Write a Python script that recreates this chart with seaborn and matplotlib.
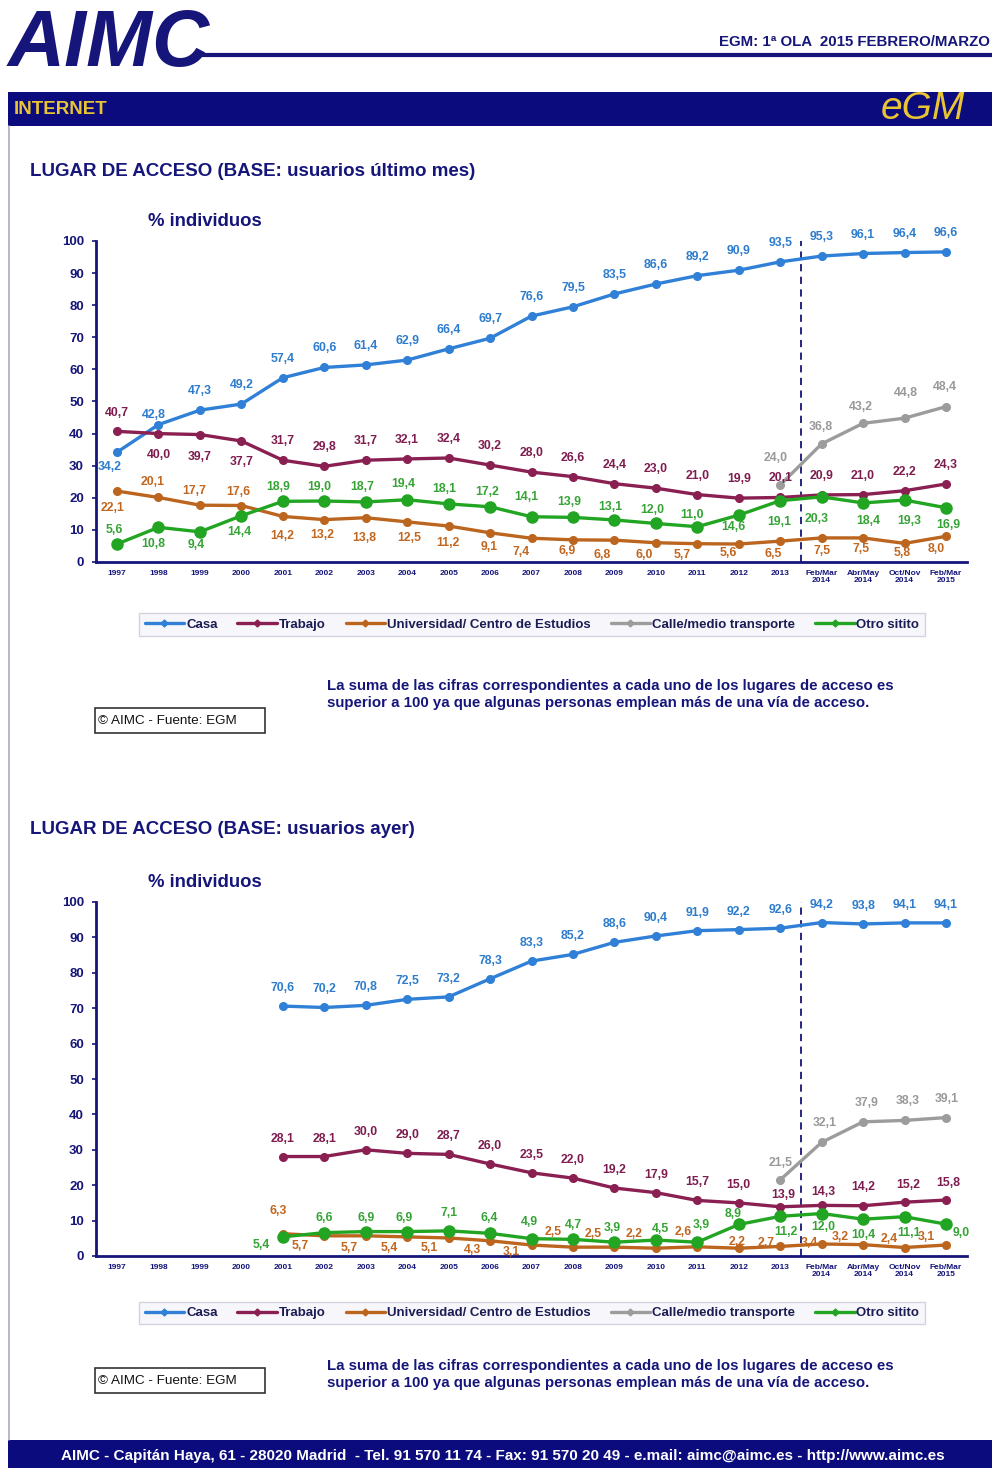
import numpy as np
import pandas as pd
import matplotlib
matplotlib.use("Agg")
import matplotlib.pyplot as plt
import seaborn as sns
from matplotlib.lines import Line2D
from matplotlib.patches import Rectangle

nan = np.nan

# ---------------------------------------------------------------- data
periods = ["1997", "1998", "1999", "2000", "2001", "2002", "2003", "2004",
           "2005", "2006", "2007", "2008", "2009", "2010", "2011", "2012",
           "2013", "Feb/Mar\n2014", "Abr/May\n2014", "Oct/Nov\n2014",
           "Feb/Mar\n2015"]

series_names = ["Casa", "Trabajo", "Universidad/ Centro de Estudios",
                "Calle/medio transporte", "Otro sitito"]

# base: usuarios último mes
mes_casa = [34.2, 42.8, 47.3, 49.2, 57.4, 60.6, 61.4, 62.9, 66.4, 69.7, 76.6,
            79.5, 83.5, 86.6, 89.2, 90.9, 93.5, 95.3, 96.1, 96.4, 96.6]
mes_trabajo = [40.7, 40.0, 39.7, 37.7, 31.7, 29.8, 31.7, 32.1, 32.4, 30.2, 28.0,
               26.6, 24.4, 23.0, 21.0, 19.9, 20.1, 20.9, 21.0, 22.2, 24.3]
mes_universidad = [22.1, 20.1, 17.7, 17.6, 14.2, 13.2, 13.8, 12.5, 11.2, 9.1, 7.4,
                   6.9, 6.8, 6.0, 5.7, 5.6, 6.5, 7.5, 7.5, 5.8, 8.0]
mes_calle = [nan] * 16 + [24.0, 36.8, 43.2, 44.8, 48.4]
mes_otro = [5.6, 10.8, 9.4, 14.4, 18.9, 19.0, 18.7, 19.4, 18.1, 17.2, 14.1,
            13.9, 13.1, 12.0, 11.0, 14.6, 19.1, 20.3, 18.4, 19.3, 16.9]

# base: usuarios ayer
ayer_casa = [nan] * 4 + [70.6, 70.2, 70.8, 72.5, 73.2, 78.3, 83.3, 85.2, 88.6,
                         90.4, 91.9, 92.2, 92.6, 94.2, 93.8, 94.1, 94.1]
ayer_trabajo = [nan] * 4 + [28.1, 28.1, 30.0, 29.0, 28.7, 26.0, 23.5, 22.0, 19.2,
                            17.9, 15.7, 15.0, 13.9, 14.3, 14.2, 15.2, 15.8]
ayer_universidad = [nan] * 4 + [6.3, 5.7, 5.7, 5.4, 5.1, 4.3, 3.1, 2.5, 2.5,
                                2.2, 2.6, 2.2, 2.7, 3.4, 3.2, 2.4, 3.1]
ayer_calle = [nan] * 16 + [21.5, 32.1, 37.9, 38.3, 39.1]
ayer_otro = [nan] * 4 + [5.4, 6.6, 6.9, 6.9, 7.1, 6.4, 4.9, 4.7, 3.9, 4.5, 3.9,
                         8.9, 11.2, 12.0, 10.4, 11.1, 9.0]

# ------------------------------------------------ label offsets (pixels)
mes_casa_dx = [-7, -5] + [0] * 19
mes_casa_dy = [-15, 10] + [19] * 19
mes_trabajo_dx = [0] * 21
mes_trabajo_dy = [18, -21, -22, -21] + [19] * 17
mes_univ_dx = [-4, -6, -6, -3, -1, -2, -1, 2, -1, -1, -10, -6, -12, -12, -15,
               -10, -7, 0, -2, -2, -10]
mes_univ_dy = [-17, 15, 14, 14, -20, -15, -20, -16, -17, -14, -14, -11, -15,
               -12, -11, -9, -13, -13, -11, -10, -13]
mes_calle_dx = [0] * 16 + [-5, -1, -2, 1, -1]
mes_calle_dy = [0] * 16 + [27, 17, 16, 25, 20]
mes_otro_dx = [-3, -5, -4, -2, -5, -5, -4, -4, -4, -3, -5, -4, -4, -4, -5, -5,
               -1, -5, 5, 5, 2]
mes_otro_dy = [14, -17, -13, -16, 14, 14, 15, 16, 15, 15, 20, 15, 13, 13, 12,
               -12, -21, -22, -18, -21, -17]

ayer_casa_dx = [0] * 21
ayer_casa_dy = [18] * 21
ayer_trabajo_dx = [0] * 16 + [3, 2, 0, 4, 2]
ayer_trabajo_dy = [18] * 16 + [12, 13, 19, 17, 17]
ayer_univ_dx = [0] * 4 + [-5, -24, -17, -18, -19, -18, -20, -20, -21, -22, -14,
                          -2, -14, -12, -23, -15, -20]
ayer_univ_dy = [0] * 4 + [23, -10, -12, -11, -10, -9, -7, 15, 13, 14, 15, 6, 3,
                          1, 8, 9, 8]
ayer_calle_dx = [0] * 16 + [0, 3, 4, 3, 1]
ayer_calle_dy = [0] * 16 + [17, 19, 19, 19, 19]
ayer_otro_dx = [0] * 4 + [-22, 0, 0, -3, 0, -1, -2, 0, -2, 5, 4, -6, 6, 2, 0,
                          4, 15]
ayer_otro_dy = [0] * 4 + [-8, 15, 14, 14, 18, 15, 17, 14, 14, 11, 17, 10, -16,
                          -13, -16, -16, -9]

# ------------------------------------------------------------- styling
NAVY = "#15157a"
BANNER = "#0b0b7e"
GOLD = "#e9c433"
line_colors = ["#2f80d6", "#8a1f52", "#bb651f", "#9c9c9c", "#22a522"]
text_colors = ["#2d7ccd", "#7d1c4e", "#c0661f", "#999999", "#35a335"]
marker_sizes = [5.5, 5.5, 5.5, 5.5, 8]

sns.set_theme(style="white")
plt.rcParams["font.family"] = ["Liberation Sans", "DejaVu Sans"]

W, H = 992, 1468
fig = plt.figure(figsize=(W / 100, H / 100), dpi=100)
fig.patch.set_facecolor("white")


def fx(x):
    return x / W


def fy(y):
    return 1 - y / H


def panel_axes(y_zero, y_hundred):
    left, right = 96.3, 966.7
    return fig.add_axes([fx(left), fy(y_zero), (right - left) / W,
                         (y_zero - y_hundred) / H])


def fmt(v):
    return f"{v:.1f}".replace(".", ",")


def draw_panel(ax, series, offsets):
    pos = np.arange(len(periods))
    for i, vals in enumerate(series):
        df = pd.DataFrame({"pos": pos, "valor": vals}).dropna()
        sns.lineplot(data=df, x="pos", y="valor", ax=ax, color=line_colors[i],
                     lw=2.4, marker="o", markersize=marker_sizes[i],
                     markeredgecolor=line_colors[i], markeredgewidth=1,
                     legend=False, zorder=3 + i)
        dxs, dys = offsets[i]
        for p, v in zip(df["pos"], df["valor"]):
            ax.annotate(fmt(v), (p, v), xytext=(dxs[p], dys[p]),
                        textcoords="offset pixels", ha="center", va="center",
                        fontsize=8.8, fontweight="bold", color=text_colors[i],
                        zorder=10, annotation_clip=False)
    ax.axvline(16.5, color=NAVY, lw=1.3, ls=(0, (4, 3)), zorder=2)
    ax.set_xlim(-0.5, 20.5)
    ax.set_ylim(0, 100)
    ax.set_yticks(range(0, 101, 10))
    ax.set_xticks(pos)
    ax.set_xticklabels(periods, fontsize=6, fontweight="bold", color=NAVY,
                       linespacing=1.0)
    for t in ax.get_yticklabels():
        t.set_fontweight("bold")
    ax.tick_params(axis="y", labelsize=9.5, colors=NAVY, length=3, width=1.2,
                   pad=6, left=True)
    ax.tick_params(axis="x", length=0, pad=6)
    ax.set_xlabel("")
    ax.set_ylabel("")
    for s in ["top", "right"]:
        ax.spines[s].set_visible(False)
    for s in ["left", "bottom"]:
        ax.spines[s].set_color(NAVY)
        ax.spines[s].set_linewidth(2)
    ax.set_facecolor("none")
    ax.grid(False)


def draw_legend(y_center):
    handles = [Line2D([0], [0], color=c, lw=2.4, marker="D", markersize=3.5)
               for c in line_colors]
    leg = fig.legend(handles, series_names, loc="center",
                     bbox_to_anchor=(fx(532), fy(y_center)), ncol=5,
                     frameon=True, fancybox=False,
                     handlelength=3.0, handletextpad=0.15, columnspacing=1.5,
                     borderpad=0.4, prop={"weight": "bold", "size": 9.5})
    fr = leg.get_frame()
    fr.set_facecolor("#f5f5fb")
    fr.set_edgecolor("#c9c9d9")
    fr.set_linewidth(1)
    for t in leg.get_texts():
        t.set_color("#1c1c55")


def draw_notes(y_line1, box_top):
    fig.text(fx(327), fy(y_line1),
             "La suma de las cifras correspondientes a cada uno de los lugares de acceso es",
             fontsize=10.8, fontweight="bold", color=NAVY, va="center")
    fig.text(fx(327), fy(y_line1 + 17),
             "superior a 100 ya que algunas personas emplean más de una vía de acceso.",
             fontsize=10.8, fontweight="bold", color=NAVY, va="center")
    fig.patches.append(Rectangle((fx(95), fy(box_top + 25)), 170 / W, 25 / H,
                                 transform=fig.transFigure, fill=False,
                                 edgecolor="#333333", lw=1.2))
    fig.text(fx(98), fy(box_top + 12.5), "© AIMC - Fuente: EGM", fontsize=9.7,
             color="#111111", va="center")


# ---------------------------------------------------------- page chrome
fig.text(fx(8), fy(66), "AIMC", fontsize=57, fontweight="bold",
         fontstyle="italic", color=NAVY, va="baseline")
fig.lines.append(Line2D([fx(200), fx(992)], [fy(55), fy(55)], lw=3,
                        color=NAVY, transform=fig.transFigure))
fig.text(fx(990), fy(42), "EGM: 1ª OLA  2015 FEBRERO/MARZO", fontsize=10.8,
         fontweight="bold", color=NAVY, ha="right", va="center")

fig.patches.append(Rectangle((fx(8), fy(126)), (W - 8) / W, 34 / H,
                             transform=fig.transFigure, color=BANNER, lw=0))
fig.text(fx(14), fy(109), "INTERNET", fontsize=13.5, fontweight="bold",
         color=GOLD, va="center")
fig.text(fx(965), fy(109), "eGM", fontsize=28, fontstyle="italic",
         color=GOLD, ha="right", va="center")

fig.lines.append(Line2D([fx(8.5), fx(8.5)], [fy(126), fy(1440)], lw=1.2,
                        color="#a9a9c9", transform=fig.transFigure))

fig.patches.append(Rectangle((fx(8), 0), (W - 8) / W, 28 / H,
                             transform=fig.transFigure, color=BANNER, lw=0))
fig.text(fx(503), fy(1456),
         "AIMC - Capitán Haya, 61 - 28020 Madrid  - Tel. 91 570 11 74 - Fax: 91 570 20 49 - e.mail: aimc@aimc.es - http://www.aimc.es",
         fontsize=11, fontweight="bold", color="white", ha="center",
         va="center")

# ------------------------------------------------- panel: último mes
fig.text(fx(30), fy(171), "LUGAR DE ACCESO (BASE: usuarios último mes)",
         fontsize=13.5, fontweight="bold", color=NAVY, va="center")
fig.text(fx(148), fy(222), "% individuos", fontsize=13.3, fontweight="bold",
         color=NAVY, va="center")
ax1 = panel_axes(562, 241)
draw_panel(ax1,
           [mes_casa, mes_trabajo, mes_universidad, mes_calle, mes_otro],
           [(mes_casa_dx, mes_casa_dy), (mes_trabajo_dx, mes_trabajo_dy),
            (mes_univ_dx, mes_univ_dy), (mes_calle_dx, mes_calle_dy),
            (mes_otro_dx, mes_otro_dy)])
draw_legend(624.5)
draw_notes(686, 708)

# ------------------------------------------------------ panel: ayer
fig.text(fx(30), fy(830), "LUGAR DE ACCESO (BASE: usuarios ayer)",
         fontsize=13.5, fontweight="bold", color=NAVY, va="center")
fig.text(fx(148), fy(882), "% individuos", fontsize=13.3, fontweight="bold",
         color=NAVY, va="center")
ax2 = panel_axes(1256, 902)
draw_panel(ax2,
           [ayer_casa, ayer_trabajo, ayer_universidad, ayer_calle, ayer_otro],
           [(ayer_casa_dx, ayer_casa_dy), (ayer_trabajo_dx, ayer_trabajo_dy),
            (ayer_univ_dx, ayer_univ_dy), (ayer_calle_dx, ayer_calle_dy),
            (ayer_otro_dx, ayer_otro_dy)])
draw_legend(1313)
draw_notes(1366, 1368)

fig.savefig("out.png", dpi=100, facecolor="white")
